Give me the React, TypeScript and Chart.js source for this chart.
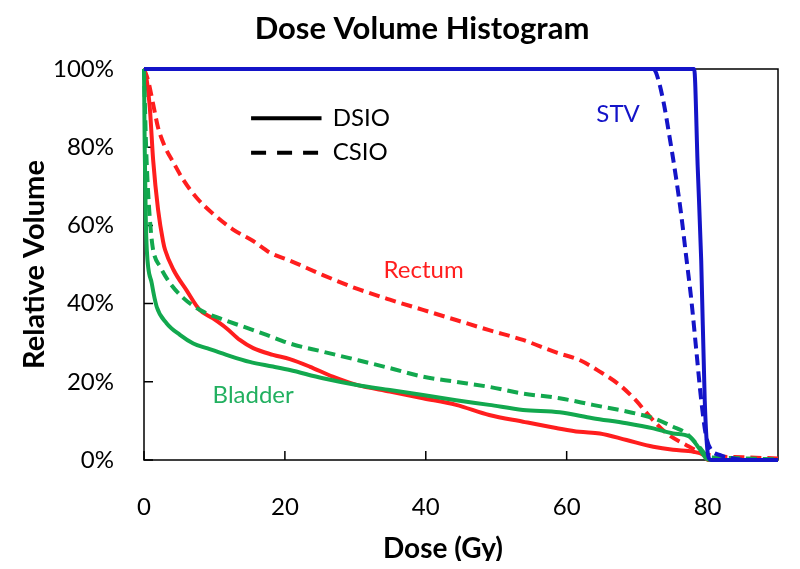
import React, { useEffect, useRef } from "react";
import { Chart, registerables } from "chart.js";

Chart.register(...registerables);

const FONT = "Lato, 'Open Sans', sans-serif";
const BLUE = "#1414c8";
const RED = "#ff1e1e";
const GREEN = "#12a84e";
const GREEN_TEXT = "#22b060";

const xTickValues = [0, 20, 40, 60, 80];
const yTickValues = [0, 20, 40, 60, 80, 100];

// STV
const stvDsioDose = [0, 78.1, 78.6, 79.1, 79.6, 80.1, 80.5, 90];
const stvDsioVol = [100, 100, 75, 51, 15.3, 1, 0, 0];
const stvCsioDose = [0, 72.3, 72.7, 73.7, 74.6, 75.5, 76.3, 76.9, 77.7, 78.4, 79.1, 79.8, 80.5, 81.7, 83.6, 86, 90];
const stvCsioVol = [100, 100, 99, 92, 82.7, 72.5, 62.2, 53, 40.9, 28.1, 15.3, 6, 2.6, 1.3, 0.4, 0, 0];

// Rectum
const rectumDsioDose = [0, 0.4, 0.85, 1.3, 2, 2.7, 3, 4.2, 6, 7.9, 9.8, 11.7, 13.6, 15.5, 18.3, 20.7, 23.5, 26.8, 30.2, 34.9, 39.6, 44.3, 49, 53.8, 58.5, 61.8, 64.7, 68.5, 72.3, 75.1, 78, 79.4, 80.1, 90];
const rectumDsioVol = [100, 97, 89.5, 76.7, 64, 56, 53.7, 48.6, 43.5, 38.4, 36.2, 33.7, 30.7, 28.6, 26.9, 25.8, 23.9, 21.3, 19.2, 17.5, 15.8, 14.1, 11.5, 9.8, 8.2, 7.2, 6.8, 5.1, 3.4, 2.6, 2.1, 1.3, 0, 0];
const rectumCsioDose = [0, 0.6, 1.3, 2, 3, 4.2, 5.6, 7.5, 9.8, 12.6, 15.5, 17.9, 20.7, 25.4, 30.1, 34.9, 39.6, 44.3, 49, 53.8, 58.5, 61.8, 64.7, 67.5, 69.8, 71.8, 74.2, 77, 79.4, 81.3, 85, 90];
const rectumCsioVol = [100, 97, 91, 85, 80, 76, 71.6, 67, 63, 59, 56, 53, 51, 47.3, 43.9, 41, 38.4, 35.8, 33.2, 30.7, 27.5, 25.6, 22.6, 19.2, 15.3, 11.1, 6.8, 3.8, 1.7, 1, 0.7, 0.4];

// Bladder
const bladderDsioDose = [0, 0.1, 0.25, 0.4, 1.1, 1.8, 3.2, 5.1, 7, 8.9, 11.7, 15, 18.3, 20.7, 25.4, 30.2, 34.9, 39.6, 44.3, 49, 53.8, 59, 63.7, 68.5, 72.3, 75.1, 77.4, 78.8, 79.8, 80.5, 90];
const bladderDsioVol = [100, 80, 62, 53.7, 45.2, 39.2, 35, 32, 29.8, 28.6, 26.9, 25.1, 23.9, 23, 20.9, 19.2, 17.9, 16.6, 15.3, 14.1, 12.8, 12.2, 10.7, 9.4, 8.1, 6.8, 6, 3, 0.4, 0, 0];
const bladderCsioDose = [0, 0.3, 0.6, 1.0, 1.3, 2.3, 3.7, 5.6, 7.9, 10.8, 14.1, 17.4, 20.7, 25.4, 30.2, 34.9, 39.6, 44.3, 49, 53.8, 59, 63.7, 68.5, 72.3, 75.1, 77, 78.8, 80.1, 81.3, 85, 90];
const bladderCsioVol = [100, 80, 68, 58, 53.7, 49.4, 45.2, 41.4, 38.4, 36.2, 34.1, 32, 29.8, 27.7, 25.6, 23.5, 21.3, 20, 18.7, 17, 15.8, 14.1, 12.4, 10.7, 8.5, 6.8, 3.4, 0.8, 0.6, 0.4, 0.2];

// in-plot labels (data coordinates)
const organLabels = [
  { text: "STV", x: 67.3, y: 88.4, color: BLUE },
  { text: "Rectum", x: 39.7, y: 48.6, color: RED },
  { text: "Bladder", x: 15.5, y: 16.6, color: GREEN_TEXT },
];
const legendItems = [
  { text: "DSIO", dash: [] as number[], y: 87.4 },
  { text: "CSIO", dash: [15, 11], y: 78.6 },
];
const legendLineFrom = 15.2;
const legendLineTo = 25.2;
const legendTextAt = 26.8;

const TITLE = "Dose Volume Histogram";
const X_TITLE = "Dose (Gy)";
const Y_TITLE = "Relative Volume";

const toPoints = (xs: number[], ys: number[]) => xs.map((x, i) => ({ x, y: ys[i] }));

const DASH = [11, 6];

const decorPlugin = {
  id: "decor",
  beforeDatasetsDraw(chart: any) {
    const { ctx, chartArea: a, scales } = chart;
    ctx.save();
    ctx.strokeStyle = "#000";
    ctx.lineWidth = 1.5;
    ctx.strokeRect(a.left, a.top, a.right - a.left, a.bottom - a.top);
    ctx.beginPath();
    for (const v of xTickValues) {
      const px = scales.x.getPixelForValue(v);
      ctx.moveTo(px, a.bottom);
      ctx.lineTo(px, a.bottom - 9);
    }
    for (const v of yTickValues) {
      const py = scales.y.getPixelForValue(v);
      ctx.moveTo(a.left, py);
      ctx.lineTo(a.left + 9, py);
    }
    ctx.stroke();
    ctx.restore();
  },
  afterDatasetsDraw(chart: any) {
    const { ctx, chartArea: a, scales } = chart;
    const xs = scales.x;
    const ys = scales.y;
    ctx.save();
    ctx.textBaseline = "middle";
    ctx.textAlign = "center";
    ctx.font = `24px ${FONT}`;
    for (const l of organLabels) {
      ctx.fillStyle = l.color;
      ctx.fillText(l.text, xs.getPixelForValue(l.x), ys.getPixelForValue(l.y));
    }
    // legend
    for (const it of legendItems) {
      const py = ys.getPixelForValue(it.y);
      ctx.strokeStyle = "#000";
      ctx.lineWidth = 4;
      ctx.setLineDash(it.dash);
      ctx.beginPath();
      ctx.moveTo(xs.getPixelForValue(legendLineFrom), py);
      ctx.lineTo(xs.getPixelForValue(legendLineTo), py);
      ctx.stroke();
      ctx.setLineDash([]);
      ctx.fillStyle = "#000";
      ctx.textAlign = "left";
      ctx.fillText(it.text, xs.getPixelForValue(legendTextAt), py);
    }
    // titles
    ctx.fillStyle = "#000";
    ctx.textAlign = "center";
    ctx.font = `bold 31px ${FONT}`;
    ctx.fillText(TITLE, 414, 21);
    ctx.font = `bold 28px ${FONT}`;
    ctx.fillText(X_TITLE, 435, 541);
    ctx.translate(27, (a.top + a.bottom) / 2);
    ctx.rotate(-Math.PI / 2);
    ctx.font = `bold 29px ${FONT}`;
    ctx.fillText(Y_TITLE, 0, 0);
    ctx.restore();
  },
};

export default function App() {
  const ref = useRef<HTMLCanvasElement | null>(null);
  useEffect(() => {
    if (!ref.current) return;
    const mk = (label: string, xs: number[], ys: number[], color: string, dashed: boolean) => ({
      label,
      data: toPoints(xs, ys),
      borderColor: color,
      backgroundColor: color,
      borderWidth: 4,
      borderDash: dashed ? DASH : [],
      pointRadius: 0,
      cubicInterpolationMode: "monotone" as const,
      fill: false,
      clip: false as any,
    });
    const chart = new Chart(ref.current, {
      type: "line",
      data: {
        datasets: [
          mk("STV DSIO", stvDsioDose, stvDsioVol, BLUE, false),
          mk("STV CSIO", stvCsioDose, stvCsioVol, BLUE, true),
          mk("Bladder DSIO", bladderDsioDose, bladderDsioVol, GREEN, false),
          mk("Bladder CSIO", bladderCsioDose, bladderCsioVol, GREEN, true),
          mk("Rectum DSIO", rectumDsioDose, rectumDsioVol, RED, false),
          mk("Rectum CSIO", rectumCsioDose, rectumCsioVol, RED, true),
        ],
      },
      options: {
        responsive: false,
        animation: false,
        devicePixelRatio: 1,
        layout: { padding: { top: 61, right: 14, left: 0, bottom: 0 } },
        plugins: { legend: { display: false }, title: { display: false }, tooltip: { enabled: false } },
        scales: {
          x: {
            type: "linear",
            min: 0,
            max: 90,
            grid: { display: false },
            border: { display: false },
            afterBuildTicks: (s: any) => {
              s.ticks = xTickValues.map((v) => ({ value: v }));
            },
            afterFit: (s: any) => {
              s.height = 101;
            },
            ticks: {
              autoSkip: false,
              maxRotation: 0,
              padding: 25,
              color: "#000",
              font: { family: FONT, size: 24 },
            },
          },
          y: {
            type: "linear",
            min: 0,
            max: 100,
            grid: { display: false },
            border: { display: false },
            afterBuildTicks: (s: any) => {
              s.ticks = yTickValues.map((v) => ({ value: v }));
            },
            afterFit: (s: any) => {
              s.width = 136;
            },
            ticks: {
              padding: 22,
              color: "#000",
              font: { family: FONT, size: 24 },
              callback: (v: any) => `${v}%`,
            },
          },
        },
      },
      plugins: [decorPlugin],
    });
    return () => chart.destroy();
  }, []);
  return <canvas ref={ref} width={784} height={553} style={{ display: "block" }} />;
}
